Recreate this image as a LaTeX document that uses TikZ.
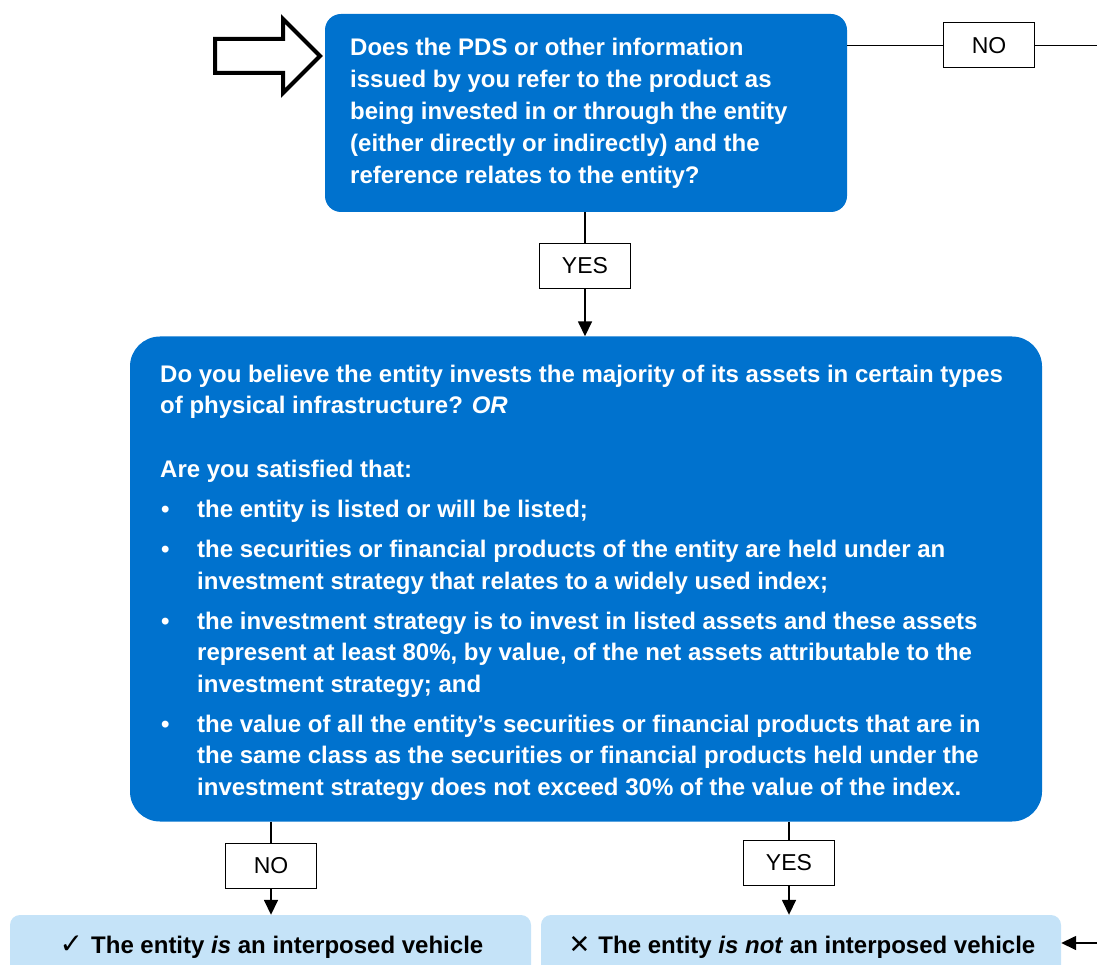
\documentclass[tikz,border=0pt]{standalone}
\usepackage{fontspec}
\setmainfont{Liberation Sans}
\newfontfamily\symfont{DejaVu Sans}
\usetikzlibrary{arrows.meta,calc}
\definecolor{qblue}{RGB}{0,114,206}
\definecolor{ablue}{RGB}{197,227,248}
\newcommand\qbullet[1]{\par\vspace{8.5pt}\noindent\hangindent=37pt\hangafter=1\makebox[37pt][l]{\hspace{1pt}\textbullet}#1\par}
\newcommand\qnl{\hfil\break}
\begin{document}
\begin{tikzpicture}[x=1pt,y=-1pt,
  qbox/.style={fill=qblue, rounded corners=16pt, inner sep=0pt},
  bigqbox/.style={fill=qblue, rounded corners=30pt, inner sep=0pt},
  ansbox/.style={fill=ablue, rounded corners=10pt, inner sep=0pt},
  lbl/.style={draw, line width=1pt, fill=white, minimum width=91pt, minimum height=45pt, inner sep=0pt, font=\fontsize{23}{26}\selectfont},
  conn/.style={line width=1.6pt},
  arr/.style={conn, -{Triangle[length=15pt,width=14pt]}},
  qtext/.style={text=white, anchor=base west, inner sep=0pt},
  atext/.style={anchor=base, inner sep=0pt, font=\bfseries\fontsize{24}{28}\selectfont},
  bigarrow/.style={line width=4pt, line join=miter, fill=white}
]
\useasboundingbox (0,0) rectangle (1097,965);
\clip (0,0) rectangle (1097,965);

% entry arrow
\draw[bigarrow] (215,39) -- (283,39) -- (283,19) -- (320,56) -- (283,93) -- (283,73) -- (215,73) -- cycle;

% first question
\node[qbox, minimum width=522pt, minimum height=198pt] (q1) at (586,113) {};
\node[qtext] (q1t) at (350,55.7) {\begin{minipage}[t]{490pt}\fontsize{24}{32}\selectfont\bfseries\raggedright
Does the PDS or other information\\
issued by you refer to the product as\\
being invested in or through the entity\\
(either directly or indirectly) and the\\
reference relates to the entity?\end{minipage}};

% second question
\node[bigqbox, minimum width=912pt, minimum height=485pt] (q2) at (586,579) {};
\node[qtext] (q2t) at (160,382) {\begin{minipage}[t]{875pt}\fontsize{24}{31.5}\selectfont\bfseries\raggedright\parskip=0pt
Do you believe the entity invests the majority of its assets in certain types\\
of physical infrastructure? \textit{OR}\par\vspace{32.5pt}
Are you satisfied that:\par
\qbullet{the entity is listed or will be listed;}
\qbullet{the securities or financial products of the entity are held under an\qnl
investment strategy that relates to a widely used index;}
\qbullet{the investment strategy is to invest in listed assets and these assets\qnl
represent at least 80\%, by value, of the net assets attributable to the\qnl
investment strategy; and}
\qbullet{the value of all the entity’s securities or financial products that are in\qnl
the same class as the securities or financial products held under the\qnl
investment strategy does not exceed 30\% of the value of the index.}
\end{minipage}};

% answers
\node[ansbox, minimum width=521pt, minimum height=60pt] (a1) at (270.5,945) {};
\node[ansbox, minimum width=520pt, minimum height=60pt] (a2) at (801,945) {};
\node[atext] (a1t) at (271.5,953) {{\symfont\fontsize{28}{28}\selectfont ✓}\hspace{8pt}The entity \textit{is} an interposed vehicle};
\node[atext] (a2t) at (802,953) {{\symfont\fontsize{26}{28}\selectfont ✕}\hspace{8pt}The entity \textit{is not} an interposed vehicle};

% labels
\node[lbl] (yes1) at (585,266) {YES};
\node[lbl] (no1) at (989,45.5) {NO};
\node[lbl] (no2) at (271,866) {NO};
\node[lbl] (yes2) at (789,863) {YES};

\coordinate (rtop) at (1097,45.5);
\coordinate (rbot) at (1097,943);

% connectors
\draw[conn] (q1.south -| yes1) -- (yes1.north);
\draw[arr] (yes1.south) -- (yes1.south |- q2.north);
\draw[conn] (q1.east |- no1) -- (no1.west);
\draw[conn] (no1.east) -- (rtop);
\draw[conn] (q2.south -| no2) -- (no2.north);
\draw[arr] (no2.south) -- (no2.south |- a1.north);
\draw[conn] (q2.south -| yes2) -- (yes2.north);
\draw[arr] (yes2.south) -- (yes2.south |- a2.north);
\draw[arr] (rbot) -- (a2.east |- rbot);
\end{tikzpicture}
\end{document}
